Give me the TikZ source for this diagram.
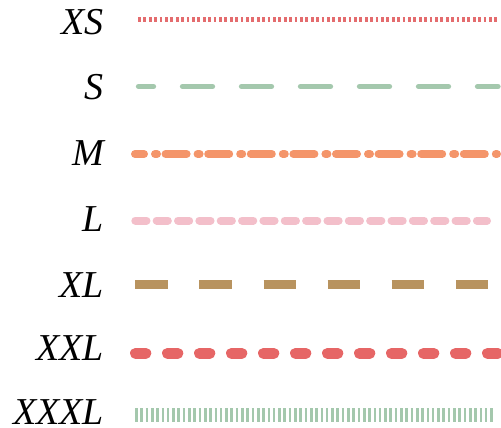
\documentclass[tikz,border=0pt]{standalone}
\usepackage{fontspec}
\setmainfont{Liberation Serif}
\definecolor{cxs}{HTML}{E46C6E}
\definecolor{cs}{HTML}{A4C8AD}
\definecolor{cm}{HTML}{F4956A}
\definecolor{cl}{HTML}{F3BFCA}
\definecolor{cxl}{HTML}{B8935F}
\definecolor{cxxl}{HTML}{E66666}
\definecolor{cxxxl}{HTML}{A4C8AD}
\begin{document}
\begin{tikzpicture}[x=1pt,y=-1pt,
  lbl/.style={anchor=east,inner sep=0pt,font=\fontsize{38}{40}\selectfont\itshape},
  lxs/.style={draw=cxs,line width=5pt,line cap=butt,dash pattern=on 2.7pt off 2.7pt},
  ls/.style={draw=cs,line width=5.3pt,line cap=round,dash pattern=on 30pt off 29pt,dash phase=15pt},
  lm/.style={draw=cm,line width=8pt,line cap=round,dash pattern=on 21pt off 11pt on 2pt off 8.6pt,dash phase=12pt},
  ll/.style={draw=cl,line width=8pt,line cap=round,dash pattern=on 11.2pt off 10.15pt},
  lxl/.style={draw=cxl,line width=8.7pt,line cap=butt,dash pattern=on 32.4pt off 31.7pt},
  lxxl/.style={draw=cxxl,line width=10.7pt,line cap=round,dash pattern=on 10.6pt off 21.4pt},
  lxxxl/.style={draw=cxxxl,line width=13.3pt,line cap=butt,dash pattern=on 2.65pt off 2.65pt}]
\useasboundingbox (0,0) rectangle (501,428);
\node[lbl] (nxs) at (104,22) {XS};
\node[lbl] (ns) at (104,87) {S};
\node[lbl] (nm) at (104,153) {M};
\node[lbl] (nl) at (104,219.5) {L};
\node[lbl] (nxl) at (104,285) {XL};
\node[lbl] (nxxl) at (104,348) {XXL};
\node[lbl] (nxxxl) at (104,412.5) {XXXL};
\draw[lxs] (138,19.5) -- (499.5,19.5);
\draw[ls] (138.5,86.5) -- (498,86.5);
\draw[lm] (135,154) -- (497,154);
\draw[ll] (135.3,220.5) -- (487,220.5);
\draw[lxl] (135.3,284.7) -- (488,284.7);
\draw[lxxl] (135.35,353.3) -- (499,353.3);
\draw[lxxxl] (135,415) -- (495,415);
\end{tikzpicture}
\end{document}
